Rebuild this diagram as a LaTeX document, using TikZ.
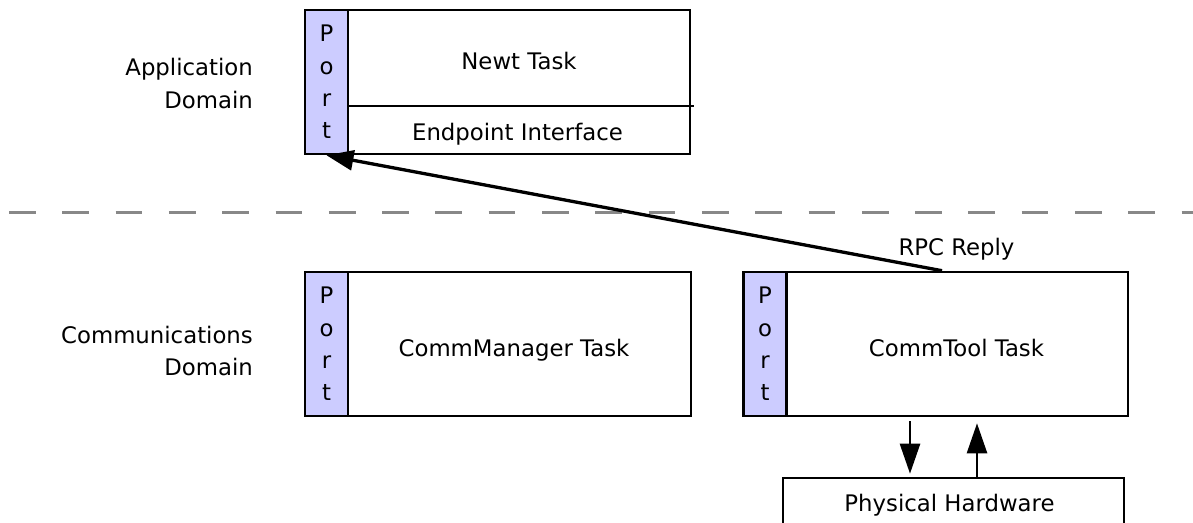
\documentclass[tikz,border=0pt]{standalone}
\usepackage{fontspec}
\setmainfont{DejaVu Sans}
\usetikzlibrary{arrows.meta}
\definecolor{portblue}{RGB}{204,204,255}
\definecolor{divgray}{RGB}{136,136,136}
\begin{document}
\begin{tikzpicture}[x=1pt,y=-1pt,
  font=\fontsize{22.8}{27}\selectfont,
  box/.style={draw=black, line width=2.6pt, fill=white, inner sep=0pt, minimum height=144pt},
  portbox/.style={box, fill=portblue, minimum width=43pt, align=center,
    font=\fontsize{22.8}{32.3}\selectfont},
  txt/.style={anchor=base, inner sep=0pt},
  domlabel/.style={anchor=east, align=right, inner sep=0pt},
  boxline/.style={draw=black, line width=2.6pt},
  divider/.style={draw=divgray, line width=3pt, dash pattern=on 26.7pt off 26.6pt},
  rpcarrow/.style={draw=black, line width=3.3pt, -{Triangle[length=27pt,width=20pt]}},
  hwarrow/.style={draw=black, line width=2.6pt, -{Triangle[length=30pt,width=20pt]}}
]
\clip (0,0) rectangle (1193,522);
\fill[white] (0,0) rectangle (1193,522);

% domain labels
\node[domlabel, font=\fontsize{22.8}{33}\selectfont] (appdom) at (253,83) {Application\\Domain};
\node[domlabel, font=\fontsize{22.8}{32}\selectfont] (comdom) at (253,350.5) {Communications\\Domain};

% divider
\coordinate (dl) at (9,212);
\coordinate (dr) at (1193,212);
\draw[divider] (dl) -- (dr);

% Newt task
\node[box, minimum width=342pt] (newt) at (519,82) {};
\node[portbox] (np) at (326.5,82) {P\\o\\r\\t};
\coordinate (dvr) at (694,106);
\draw[boxline] (np.east |- dvr) -- (dvr);
\node[txt] (newtl) at (519,69) {Newt Task};
\node[txt] (epl) at (517.5,140) {Endpoint Interface};

% CommManager task
\node[box, minimum width=343pt] (cm) at (519.5,344) {};
\node[portbox] (cmp) at (326.5,344) {P\\o\\r\\t};
\node[txt] (cml) at (514,356) {CommManager Task};

% CommTool task
\node[box, minimum width=341pt] (ct) at (957.5,344) {};
\node[portbox] (ctp) at (765,344) {P\\o\\r\\t};
\node[txt] (ctl) at (956.5,356) {CommTool Task};

% Physical hardware
\node[box, minimum width=341pt, minimum height=48pt] (hw) at (953.5,502) {};
\node[txt] (hwl) at (949.5,511) {Physical Hardware};

% RPC reply arrow
\coordinate (rs) at (942,0);
\draw[rpcarrow] (ct.north -| rs) -- (np.south);
\node[txt] (rpcl) at (956.5,255) {RPC Reply};

% hardware arrows
\coordinate (da) at (910,0);
\coordinate (ua) at (977,0);
\draw[hwarrow, shorten <=4pt, shorten >=3pt] (ct.south -| da) -- (hw.north -| da);
\draw[hwarrow, shorten >=6pt] (hw.north -| ua) -- (ct.south -| ua);
\end{tikzpicture}
\end{document}
